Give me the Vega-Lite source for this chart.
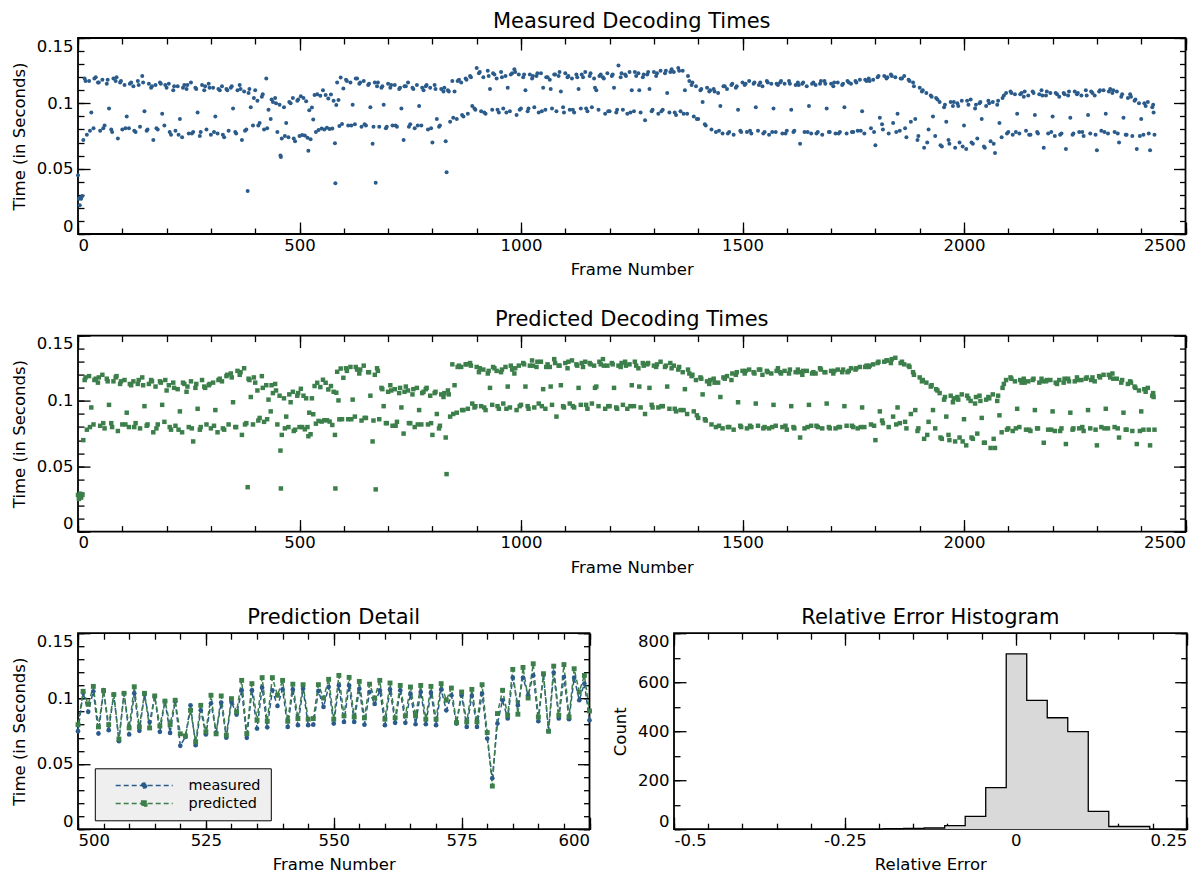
{
"$schema":"https://vega.github.io/schema/vega-lite/v6.json",
"padding":{"left":10,"top":10,"right":5,"bottom":5},
"background":"white",
"config":{
"font":"DejaVu Sans",
"view":{"stroke":"#000000","strokeWidth":1.8},
"axis":{"grid":false,"domain":false,"tickColor":"#000000","tickWidth":1.3,"labelColor":"#000000","titleColor":"#000000","labelFont":"DejaVu Sans","titleFont":"DejaVu Sans","labelFontSize":16.5,"titleFontSize":16.5,"titleFontWeight":"normal","labelOverlap":false,"labelFlush":true},
"title":{"fontSize":21,"fontWeight":"normal","color":"#000000","font":"DejaVu Sans","offset":5}
},
"datasets":{
"stub":[],
"hist":[{"edge":-0.194,"count":2},{"edge":-0.164,"count":3},{"edge":-0.134,"count":5},{"edge":-0.104,"count":15},{"edge":-0.074,"count":52},{"edge":-0.044,"count":170},{"edge":-0.014,"count":716},{"edge":0.016,"count":526},{"edge":0.046,"count":455},{"edge":0.076,"count":398},{"edge":0.106,"count":73},{"edge":0.136,"count":11},{"edge":0.166,"count":11},{"edge":0.196,"count":0}],
"detail":[{"frame":500,"measured":0.075,"predicted":0.08},{"frame":501,"measured":0.1045,"predicted":0.1055},{"frame":502,"measured":0.0898,"predicted":0.0956},{"frame":503,"measured":0.1055,"predicted":0.1093},{"frame":504,"measured":0.0732,"predicted":0.0783},{"frame":505,"measured":0.1065,"predicted":0.106},{"frame":506,"measured":0.0758,"predicted":0.08},{"frame":507,"measured":0.103,"predicted":0.103},{"frame":508,"measured":0.0674,"predicted":0.069},{"frame":509,"measured":0.104,"predicted":0.104},{"frame":510,"measured":0.0725,"predicted":0.0775},{"frame":511,"measured":0.104,"predicted":0.109},{"frame":512,"measured":0.0753,"predicted":0.0783},{"frame":513,"measured":0.103,"predicted":0.104},{"frame":514,"measured":0.082,"predicted":0.0775},{"frame":515,"measured":0.1015,"predicted":0.102},{"frame":516,"measured":0.0745,"predicted":0.079},{"frame":517,"measured":0.098,"predicted":0.098},{"frame":518,"measured":0.0737,"predicted":0.08},{"frame":519,"measured":0.098,"predicted":0.0987},{"frame":520,"measured":0.0638,"predicted":0.073},{"frame":521,"measured":0.0707,"predicted":0.0714},{"frame":522,"measured":0.0948,"predicted":0.091},{"frame":523,"measured":0.0643,"predicted":0.0669},{"frame":524,"measured":0.091,"predicted":0.0948},{"frame":525,"measured":0.0725,"predicted":0.0745},{"frame":526,"measured":0.0964,"predicted":0.1025},{"frame":527,"measured":0.074,"predicted":0.073},{"frame":528,"measured":0.0969,"predicted":0.102},{"frame":529,"measured":0.07,"predicted":0.072},{"frame":530,"measured":0.0974,"predicted":0.0999},{"frame":531,"measured":0.0877,"predicted":0.0898},{"frame":532,"measured":0.1063,"predicted":0.1139},{"frame":533,"measured":0.0699,"predicted":0.0732},{"frame":534,"measured":0.1063,"predicted":0.1114},{"frame":535,"measured":0.077,"predicted":0.0834},{"frame":536,"measured":0.1083,"predicted":0.116},{"frame":537,"measured":0.078,"predicted":0.0826},{"frame":538,"measured":0.1063,"predicted":0.116},{"frame":539,"measured":0.0943,"predicted":0.1025},{"frame":540,"measured":0.107,"predicted":0.1139},{"frame":541,"measured":0.0783,"predicted":0.0826},{"frame":542,"measured":0.107,"predicted":0.111},{"frame":543,"measured":0.0796,"predicted":0.0847},{"frame":544,"measured":0.1075,"predicted":0.1106},{"frame":545,"measured":0.0796,"predicted":0.0842},{"frame":546,"measured":0.08,"predicted":0.0847},{"frame":547,"measured":0.1058,"predicted":0.1106},{"frame":548,"measured":0.0936,"predicted":0.1004},{"frame":549,"measured":0.1088,"predicted":0.1147},{"frame":550,"measured":0.0808,"predicted":0.0842},{"frame":551,"measured":0.11,"predicted":0.1177},{"frame":552,"measured":0.0821,"predicted":0.0867},{"frame":553,"measured":0.11,"predicted":0.1162},{"frame":554,"measured":0.0821,"predicted":0.0859},{"frame":555,"measured":0.1075,"predicted":0.1131},{"frame":556,"measured":0.08,"predicted":0.0852},{"frame":557,"measured":0.105,"predicted":0.111},{"frame":558,"measured":0.0959,"predicted":0.1004},{"frame":559,"measured":0.1063,"predicted":0.1139},{"frame":560,"measured":0.0796,"predicted":0.0842},{"frame":561,"measured":0.107,"predicted":0.1119},{"frame":562,"measured":0.0814,"predicted":0.0852},{"frame":563,"measured":0.1063,"predicted":0.11},{"frame":564,"measured":0.0814,"predicted":0.0867},{"frame":565,"measured":0.1037,"predicted":0.1088},{"frame":566,"measured":0.0803,"predicted":0.0867},{"frame":567,"measured":0.105,"predicted":0.11},{"frame":568,"measured":0.0803,"predicted":0.0842},{"frame":569,"measured":0.1045,"predicted":0.1093},{"frame":570,"measured":0.0796,"predicted":0.0842},{"frame":571,"measured":0.1068,"predicted":0.1114},{"frame":572,"measured":0.091,"predicted":0.0987},{"frame":573,"measured":0.1025,"predicted":0.108},{"frame":574,"measured":0.0808,"predicted":0.0816},{"frame":575,"measured":0.1025,"predicted":0.105},{"frame":576,"measured":0.0783,"predicted":0.0821},{"frame":577,"measured":0.102,"predicted":0.107},{"frame":578,"measured":0.0783,"predicted":0.0821},{"frame":579,"measured":0.1037,"predicted":0.1106},{"frame":580,"measured":0.0694,"predicted":0.074},{"frame":581,"measured":0.0389,"predicted":0.033},{"frame":582,"measured":0.0808,"predicted":0.0885},{"frame":583,"measured":0.0987,"predicted":0.1063},{"frame":584,"measured":0.0847,"predicted":0.0872},{"frame":585,"measured":0.116,"predicted":0.1223},{"frame":586,"measured":0.0948,"predicted":0.088},{"frame":587,"measured":0.116,"predicted":0.1238},{"frame":588,"measured":0.1025,"predicted":0.1004},{"frame":589,"measured":0.1177,"predicted":0.1266},{"frame":590,"measured":0.0826,"predicted":0.0859},{"frame":591,"measured":0.1182,"predicted":0.119},{"frame":592,"measured":0.075,"predicted":0.075},{"frame":593,"measured":0.1198,"predicted":0.1248},{"frame":594,"measured":0.0847,"predicted":0.0872},{"frame":595,"measured":0.1165,"predicted":0.126},{"frame":596,"measured":0.0842,"predicted":0.086},{"frame":597,"measured":0.116,"predicted":0.1228},{"frame":598,"measured":0.0987,"predicted":0.105},{"frame":599,"measured":0.1114,"predicted":0.1177},{"frame":600,"measured":0.0834,"predicted":0.0905}],
"frames":[
{"f":0,"m":0.045,"p":0.028},{"f":2,"m":0.027,"p":0.025},{"f":4,"m":0.022,"p":0.027},{"f":5,"m":0.028,"p":0.029},{"f":7,"m":0.027,"p":0.026},{"f":10,"m":0.029,"p":0.028},{"f":12,"m":0.072,"p":0.070},
{"f":15,"m":0.119,"p":0.116},{"f":20,"m":0.076,"p":0.078},{"f":25,"m":0.117,"p":0.119},{"f":30,"m":0.093,"p":0.095},{"f":35,"m":0.081,"p":0.082},{"f":40,"m":0.120,"p":0.117},{"f":45,"m":0.116,"p":0.114},{"f":50,"m":0.079,"p":0.081},{"f":55,"m":0.118,"p":0.120},{"f":60,"m":0.083,"p":0.079},{"f":65,"m":0.115,"p":0.117},{"f":70,"m":0.096,"p":0.097},{"f":75,"m":0.080,"p":0.083},{"f":80,"m":0.119,"p":0.115},{"f":85,"m":0.117,"p":0.118},{"f":90,"m":0.073,"p":0.077},{"f":95,"m":0.116,"p":0.113},
{"f":100,"m":0.080,"p":0.082},{"f":105,"m":0.114,"p":0.116},{"f":110,"m":0.090,"p":0.091},{"f":115,"m":0.081,"p":0.080},{"f":120,"m":0.116,"p":0.112},{"f":125,"m":0.113,"p":0.115},{"f":130,"m":0.078,"p":0.083},{"f":135,"m":0.117,"p":0.113},{"f":140,"m":0.082,"p":0.079},{"f":145,"m":0.121,"p":0.118},{"f":150,"m":0.094,"p":0.096},{"f":155,"m":0.079,"p":0.081},{"f":160,"m":0.115,"p":0.113},{"f":165,"m":0.112,"p":0.116},{"f":170,"m":0.072,"p":0.076},{"f":175,"m":0.114,"p":0.111},{"f":180,"m":0.080,"p":0.082},{"f":185,"m":0.116,"p":0.115},{"f":190,"m":0.092,"p":0.097},{"f":195,"m":0.083,"p":0.084},
{"f":200,"m":0.112,"p":0.108},{"f":205,"m":0.115,"p":0.112},{"f":210,"m":0.076,"p":0.078},{"f":215,"m":0.110,"p":0.114},{"f":220,"m":0.079,"p":0.081},{"f":225,"m":0.113,"p":0.109},{"f":230,"m":0.088,"p":0.092},{"f":235,"m":0.074,"p":0.076},{"f":240,"m":0.114,"p":0.113},{"f":245,"m":0.111,"p":0.107},{"f":250,"m":0.077,"p":0.080},{"f":255,"m":0.116,"p":0.115},{"f":260,"m":0.078,"p":0.069},{"f":265,"m":0.112,"p":0.110},{"f":270,"m":0.093,"p":0.094},{"f":275,"m":0.075,"p":0.078},{"f":280,"m":0.114,"p":0.116},{"f":285,"m":0.110,"p":0.111},{"f":290,"m":0.080,"p":0.082},{"f":295,"m":0.115,"p":0.112},
{"f":300,"m":0.076,"p":0.079},{"f":305,"m":0.112,"p":0.114},{"f":310,"m":0.090,"p":0.093},{"f":315,"m":0.077,"p":0.076},{"f":320,"m":0.110,"p":0.117},{"f":325,"m":0.113,"p":0.115},{"f":330,"m":0.074,"p":0.078},{"f":335,"m":0.111,"p":0.119},{"f":340,"m":0.079,"p":0.082},{"f":345,"m":0.112,"p":0.121},{"f":350,"m":0.096,"p":0.099},{"f":355,"m":0.078,"p":0.080},{"f":360,"m":0.110,"p":0.123},{"f":365,"m":0.114,"p":0.120},{"f":370,"m":0.072,"p":0.074},{"f":375,"m":0.109,"p":0.125},
{"f":380,"m":0.080,"p":0.083},{"f":383,"m":0.033,"p":0.034},{"f":385,"m":0.108,"p":0.117},{"f":390,"m":0.097,"p":0.103},{"f":395,"m":0.083,"p":0.082},{"f":400,"m":0.110,"p":0.114},{"f":405,"m":0.102,"p":0.108},{"f":410,"m":0.085,"p":0.087},{"f":415,"m":0.105,"p":0.119},{"f":420,"m":0.080,"p":0.084},{"f":425,"m":0.119,"p":0.112},{"f":430,"m":0.095,"p":0.101},{"f":435,"m":0.088,"p":0.092},{"f":440,"m":0.101,"p":0.106},{"f":445,"m":0.104,"p":0.113},{"f":450,"m":0.078,"p":0.082},{"f":455,"m":0.099,"p":0.104},{"f":457,"m":0.060,"p":0.062},{"f":458,"m":0.059,"p":0.033},
{"f":460,"m":0.073,"p":0.074},{"f":465,"m":0.097,"p":0.102},{"f":470,"m":0.085,"p":0.088},{"f":475,"m":0.074,"p":0.080},{"f":480,"m":0.100,"p":0.099},{"f":485,"m":0.104,"p":0.107},{"f":490,"m":0.071,"p":0.078},{"f":495,"m":0.102,"p":0.104},
{"f":500,"m":0.075,"p":0.080},{"f":503,"m":0.1055,"p":0.1093},{"f":506,"m":0.0758,"p":0.080},{"f":509,"m":0.104,"p":0.104},{"f":512,"m":0.0753,"p":0.0783},{"f":515,"m":0.1015,"p":0.102},{"f":518,"m":0.0737,"p":0.080},{"f":520,"m":0.0638,"p":0.073},{"f":522,"m":0.0948,"p":0.091},{"f":525,"m":0.0725,"p":0.0745},{"f":528,"m":0.0969,"p":0.102},{"f":531,"m":0.0877,"p":0.0898},{"f":534,"m":0.1063,"p":0.1114},{"f":537,"m":0.078,"p":0.0826},{"f":540,"m":0.107,"p":0.1139},{"f":543,"m":0.0796,"p":0.0847},{"f":547,"m":0.1058,"p":0.1106},{"f":550,"m":0.0808,"p":0.0842},{"f":553,"m":0.110,"p":0.1162},{"f":556,"m":0.080,"p":0.0852},{"f":559,"m":0.1063,"p":0.1139},{"f":562,"m":0.0814,"p":0.0852},{"f":565,"m":0.1037,"p":0.1088},{"f":568,"m":0.0803,"p":0.0842},{"f":571,"m":0.1068,"p":0.1114},{"f":574,"m":0.0808,"p":0.0816},{"f":577,"m":0.102,"p":0.107},{"f":580,"m":0.0694,"p":0.074},{"f":581,"m":0.0389,"p":0.033},{"f":583,"m":0.0987,"p":0.1063},{"f":585,"m":0.116,"p":0.1223},{"f":588,"m":0.1025,"p":0.1004},{"f":590,"m":0.0826,"p":0.0859},{"f":593,"m":0.1198,"p":0.1248},{"f":596,"m":0.0842,"p":0.086},{"f":599,"m":0.1114,"p":0.1177},
{"f":605,"m":0.118,"p":0.125},{"f":610,"m":0.083,"p":0.086},{"f":615,"m":0.116,"p":0.126},{"f":620,"m":0.099,"p":0.101},{"f":625,"m":0.084,"p":0.088},{"f":630,"m":0.119,"p":0.124},{"f":635,"m":0.115,"p":0.121},{"f":640,"m":0.082,"p":0.085},{"f":645,"m":0.117,"p":0.127},{"f":650,"m":0.083,"p":0.087},{"f":655,"m":0.114,"p":0.122},{"f":660,"m":0.097,"p":0.104},{"f":665,"m":0.069,"p":0.069},{"f":670,"m":0.116,"p":0.120},{"f":672,"m":0.0393,"p":0.0323},{"f":675,"m":0.113,"p":0.125},{"f":680,"m":0.082,"p":0.086},
{"f":685,"m":0.112,"p":0.110},{"f":690,"m":0.099,"p":0.096},{"f":695,"m":0.081,"p":0.083},{"f":700,"m":0.115,"p":0.107},{"f":705,"m":0.112,"p":0.112},{"f":710,"m":0.083,"p":0.081},{"f":715,"m":0.114,"p":0.109},{"f":720,"m":0.082,"p":0.084},{"f":725,"m":0.111,"p":0.106},{"f":730,"m":0.096,"p":0.095},{"f":735,"m":0.072,"p":0.075},{"f":740,"m":0.113,"p":0.111},{"f":745,"m":0.116,"p":0.108},{"f":750,"m":0.084,"p":0.083},{"f":755,"m":0.112,"p":0.105},{"f":760,"m":0.081,"p":0.080},{"f":765,"m":0.114,"p":0.110},{"f":770,"m":0.098,"p":0.093},{"f":775,"m":0.083,"p":0.082},{"f":780,"m":0.110,"p":0.107},{"f":785,"m":0.113,"p":0.109},{"f":790,"m":0.080,"p":0.082},{"f":795,"m":0.112,"p":0.104},{"f":800,"m":0.070,"p":0.074},{"f":805,"m":0.114,"p":0.106},{"f":810,"m":0.088,"p":0.090},{"f":815,"m":0.082,"p":0.079},{"f":820,"m":0.111,"p":0.105},{"f":825,"m":0.109,"p":0.103},{"f":830,"m":0.071,"p":0.072},{"f":832,"m":0.0472,"p":0.044},{"f":835,"m":0.110,"p":0.108},
{"f":840,"m":0.086,"p":0.088},{"f":845,"m":0.117,"p":0.128},{"f":850,"m":0.109,"p":0.112},{"f":855,"m":0.088,"p":0.091},{"f":860,"m":0.118,"p":0.127},{"f":865,"m":0.116,"p":0.126},{"f":870,"m":0.090,"p":0.093},{"f":875,"m":0.119,"p":0.128},{"f":880,"m":0.092,"p":0.094},{"f":885,"m":0.121,"p":0.129},{"f":890,"m":0.098,"p":0.098},{"f":895,"m":0.096,"p":0.095},
{"f":900,"m":0.127,"p":0.126},{"f":905,"m":0.123,"p":0.122},{"f":910,"m":0.094,"p":0.096},{"f":915,"m":0.120,"p":0.124},{"f":920,"m":0.092,"p":0.093},{"f":925,"m":0.125,"p":0.121},{"f":930,"m":0.111,"p":0.110},{"f":935,"m":0.095,"p":0.097},{"f":940,"m":0.122,"p":0.125},{"f":945,"m":0.119,"p":0.123},{"f":950,"m":0.093,"p":0.094},{"f":955,"m":0.124,"p":0.122},{"f":960,"m":0.096,"p":0.098},{"f":965,"m":0.121,"p":0.126},{"f":970,"m":0.112,"p":0.111},{"f":975,"m":0.094,"p":0.095},{"f":980,"m":0.123,"p":0.124},{"f":985,"m":0.126,"p":0.121},{"f":990,"m":0.091,"p":0.093},{"f":995,"m":0.122,"p":0.127},
{"f":1000,"m":0.096,"p":0.097},{"f":1005,"m":0.120,"p":0.129},{"f":1010,"m":0.110,"p":0.111},{"f":1015,"m":0.094,"p":0.096},{"f":1020,"m":0.122,"p":0.127},{"f":1025,"m":0.119,"p":0.131},{"f":1030,"m":0.097,"p":0.095},{"f":1035,"m":0.121,"p":0.126},{"f":1040,"m":0.093,"p":0.098},{"f":1045,"m":0.123,"p":0.130},{"f":1050,"m":0.112,"p":0.109},{"f":1055,"m":0.095,"p":0.094},{"f":1060,"m":0.120,"p":0.128},{"f":1065,"m":0.118,"p":0.126},{"f":1070,"m":0.096,"p":0.097},{"f":1075,"m":0.122,"p":0.132},{"f":1080,"m":0.094,"p":0.088},{"f":1085,"m":0.121,"p":0.127},{"f":1090,"m":0.109,"p":0.112},{"f":1095,"m":0.097,"p":0.096},{"f":1100,"m":0.123,"p":0.129},{"f":1105,"m":0.120,"p":0.125},{"f":1110,"m":0.095,"p":0.098},{"f":1115,"m":0.119,"p":0.131},{"f":1120,"m":0.093,"p":0.095},{"f":1125,"m":0.122,"p":0.128},{"f":1130,"m":0.111,"p":0.110},{"f":1135,"m":0.096,"p":0.097},{"f":1140,"m":0.120,"p":0.126},{"f":1145,"m":0.124,"p":0.130},{"f":1150,"m":0.094,"p":0.094},{"f":1155,"m":0.121,"p":0.129},{"f":1160,"m":0.097,"p":0.098},{"f":1165,"m":0.119,"p":0.127},{"f":1170,"m":0.110,"p":0.111},{"f":1175,"m":0.095,"p":0.096},{"f":1180,"m":0.122,"p":0.128},{"f":1185,"m":0.120,"p":0.132},{"f":1190,"m":0.092,"p":0.094},{"f":1195,"m":0.123,"p":0.127},
{"f":1200,"m":0.094,"p":0.096},{"f":1205,"m":0.121,"p":0.129},{"f":1210,"m":0.112,"p":0.110},{"f":1215,"m":0.093,"p":0.095},{"f":1220,"m":0.129,"p":0.127},{"f":1225,"m":0.120,"p":0.126},{"f":1230,"m":0.095,"p":0.097},{"f":1235,"m":0.122,"p":0.130},{"f":1240,"m":0.092,"p":0.094},{"f":1245,"m":0.124,"p":0.128},{"f":1250,"m":0.110,"p":0.112},{"f":1255,"m":0.094,"p":0.096},{"f":1260,"m":0.121,"p":0.127},{"f":1265,"m":0.123,"p":0.125},{"f":1270,"m":0.093,"p":0.095},{"f":1275,"m":0.120,"p":0.129},{"f":1280,"m":0.087,"p":0.090},{"f":1285,"m":0.122,"p":0.128},{"f":1290,"m":0.111,"p":0.110},{"f":1295,"m":0.094,"p":0.097},{"f":1300,"m":0.124,"p":0.127},{"f":1305,"m":0.121,"p":0.126},{"f":1310,"m":0.092,"p":0.095},{"f":1315,"m":0.125,"p":0.130},{"f":1320,"m":0.095,"p":0.096},{"f":1325,"m":0.123,"p":0.126},{"f":1330,"m":0.108,"p":0.111},{"f":1335,"m":0.093,"p":0.094},{"f":1340,"m":0.126,"p":0.125},{"f":1345,"m":0.124,"p":0.127},{"f":1350,"m":0.091,"p":0.092},{"f":1355,"m":0.127,"p":0.124},{"f":1360,"m":0.094,"p":0.093},{"f":1365,"m":0.125,"p":0.122},{"f":1370,"m":0.110,"p":0.109},{"f":1375,"m":0.092,"p":0.090},
{"f":1380,"m":0.117,"p":0.121},{"f":1385,"m":0.114,"p":0.119},{"f":1390,"m":0.090,"p":0.092},{"f":1395,"m":0.113,"p":0.116},{"f":1400,"m":0.088,"p":0.087},{"f":1405,"m":0.110,"p":0.118},{"f":1410,"m":0.101,"p":0.105},{"f":1415,"m":0.084,"p":0.086},{"f":1420,"m":0.112,"p":0.115},{"f":1425,"m":0.109,"p":0.113},{"f":1430,"m":0.080,"p":0.082},{"f":1435,"m":0.111,"p":0.117},{"f":1440,"m":0.078,"p":0.080},{"f":1445,"m":0.108,"p":0.114},
{"f":1450,"m":0.098,"p":0.103},{"f":1455,"m":0.077,"p":0.079},{"f":1460,"m":0.113,"p":0.117},{"f":1465,"m":0.111,"p":0.119},{"f":1470,"m":0.078,"p":0.080},{"f":1475,"m":0.114,"p":0.116},{"f":1480,"m":0.076,"p":0.078},{"f":1485,"m":0.112,"p":0.120},{"f":1490,"m":0.095,"p":0.099},{"f":1495,"m":0.079,"p":0.081},{"f":1500,"m":0.116,"p":0.123},{"f":1505,"m":0.114,"p":0.121},{"f":1510,"m":0.078,"p":0.079},{"f":1515,"m":0.117,"p":0.124},{"f":1520,"m":0.077,"p":0.080},{"f":1525,"m":0.115,"p":0.122},{"f":1530,"m":0.097,"p":0.098},{"f":1535,"m":0.079,"p":0.081},{"f":1540,"m":0.116,"p":0.124},{"f":1545,"m":0.113,"p":0.120},{"f":1550,"m":0.078,"p":0.080},{"f":1555,"m":0.117,"p":0.123},{"f":1560,"m":0.076,"p":0.079},{"f":1565,"m":0.115,"p":0.121},{"f":1570,"m":0.096,"p":0.097},{"f":1575,"m":0.078,"p":0.081},{"f":1580,"m":0.114,"p":0.125},{"f":1585,"m":0.116,"p":0.122},{"f":1590,"m":0.077,"p":0.080},{"f":1595,"m":0.115,"p":0.123},{"f":1600,"m":0.079,"p":0.078},{"f":1605,"m":0.117,"p":0.121},{"f":1610,"m":0.095,"p":0.096},{"f":1615,"m":0.078,"p":0.080},{"f":1620,"m":0.114,"p":0.122},{"f":1625,"m":0.116,"p":0.124},{"f":1630,"m":0.069,"p":0.072},{"f":1635,"m":0.115,"p":0.120},{"f":1640,"m":0.078,"p":0.079},{"f":1645,"m":0.113,"p":0.123},{"f":1650,"m":0.098,"p":0.097},{"f":1655,"m":0.077,"p":0.081},{"f":1660,"m":0.116,"p":0.122},{"f":1665,"m":0.114,"p":0.121},{"f":1670,"m":0.078,"p":0.080},{"f":1675,"m":0.115,"p":0.125},{"f":1680,"m":0.076,"p":0.079},{"f":1685,"m":0.117,"p":0.122},{"f":1690,"m":0.096,"p":0.098},{"f":1695,"m":0.078,"p":0.080},{"f":1700,"m":0.115,"p":0.123},{"f":1705,"m":0.113,"p":0.121},{"f":1710,"m":0.077,"p":0.079},{"f":1715,"m":0.116,"p":0.124},{"f":1720,"m":0.078,"p":0.080},{"f":1725,"m":0.114,"p":0.122},{"f":1730,"m":0.097,"p":0.096},{"f":1735,"m":0.077,"p":0.081},{"f":1740,"m":0.116,"p":0.123},{"f":1745,"m":0.115,"p":0.125},{"f":1750,"m":0.078,"p":0.080},{"f":1755,"m":0.117,"p":0.124},{"f":1760,"m":0.079,"p":0.079},{"f":1765,"m":0.118,"p":0.126},{"f":1770,"m":0.094,"p":0.095},{"f":1775,"m":0.077,"p":0.080},{"f":1780,"m":0.117,"p":0.127},{"f":1785,"m":0.119,"p":0.126},{"f":1790,"m":0.081,"p":0.082},{"f":1795,"m":0.118,"p":0.128},
{"f":1800,"m":0.068,"p":0.070},{"f":1805,"m":0.120,"p":0.129},{"f":1810,"m":0.089,"p":0.092},{"f":1815,"m":0.084,"p":0.085},{"f":1820,"m":0.121,"p":0.130},{"f":1825,"m":0.119,"p":0.131},{"f":1830,"m":0.077,"p":0.080},{"f":1835,"m":0.122,"p":0.129},{"f":1840,"m":0.085,"p":0.088},{"f":1845,"m":0.120,"p":0.133},{"f":1850,"m":0.092,"p":0.095},{"f":1855,"m":0.079,"p":0.083},{"f":1860,"m":0.119,"p":0.130},{"f":1865,"m":0.121,"p":0.128},{"f":1870,"m":0.074,"p":0.079},{"f":1875,"m":0.118,"p":0.127},
{"f":1880,"m":0.086,"p":0.090},{"f":1885,"m":0.116,"p":0.122},{"f":1890,"m":0.088,"p":0.093},{"f":1895,"m":0.072,"p":0.077},{"f":1900,"m":0.112,"p":0.118},{"f":1905,"m":0.109,"p":0.115},{"f":1910,"m":0.066,"p":0.071},{"f":1915,"m":0.108,"p":0.114},{"f":1920,"m":0.080,"p":0.084},{"f":1925,"m":0.106,"p":0.111},{"f":1930,"m":0.090,"p":0.093},{"f":1935,"m":0.075,"p":0.079},{"f":1940,"m":0.103,"p":0.108},{"f":1945,"m":0.101,"p":0.106},
{"f":1950,"m":0.067,"p":0.071},{"f":1955,"m":0.097,"p":0.101},{"f":1960,"m":0.086,"p":0.088},{"f":1965,"m":0.072,"p":0.074},{"f":1970,"m":0.101,"p":0.104},{"f":1975,"m":0.098,"p":0.099},{"f":1980,"m":0.066,"p":0.069},{"f":1985,"m":0.100,"p":0.103},{"f":1990,"m":0.070,"p":0.072},{"f":1995,"m":0.102,"p":0.105},{"f":2000,"m":0.083,"p":0.086},{"f":2005,"m":0.065,"p":0.066},{"f":2010,"m":0.099,"p":0.102},{"f":2015,"m":0.103,"p":0.100},{"f":2020,"m":0.069,"p":0.071},{"f":2025,"m":0.096,"p":0.098},{"f":2030,"m":0.073,"p":0.075},{"f":2035,"m":0.100,"p":0.104},{"f":2040,"m":0.088,"p":0.087},{"f":2045,"m":0.067,"p":0.068},{"f":2050,"m":0.098,"p":0.101},{"f":2055,"m":0.102,"p":0.103},{"f":2060,"m":0.071,"p":0.064},{"f":2065,"m":0.101,"p":0.105},{"f":2070,"m":0.062,"p":0.064},{"f":2075,"m":0.099,"p":0.100},{"f":2080,"m":0.085,"p":0.089},{"f":2085,"m":0.074,"p":0.076},
{"f":2090,"m":0.106,"p":0.113},{"f":2095,"m":0.108,"p":0.116},{"f":2100,"m":0.078,"p":0.079},{"f":2105,"m":0.109,"p":0.118},{"f":2110,"m":0.076,"p":0.077},{"f":2115,"m":0.107,"p":0.115},{"f":2120,"m":0.092,"p":0.094},{"f":2125,"m":0.077,"p":0.080},{"f":2130,"m":0.108,"p":0.114},{"f":2135,"m":0.105,"p":0.117},{"f":2140,"m":0.079,"p":0.078},{"f":2145,"m":0.106,"p":0.115},{"f":2150,"m":0.076,"p":0.077},{"f":2155,"m":0.109,"p":0.116},{"f":2160,"m":0.091,"p":0.093},{"f":2165,"m":0.078,"p":0.079},{"f":2170,"m":0.107,"p":0.114},{"f":2175,"m":0.110,"p":0.117},{"f":2180,"m":0.066,"p":0.068},{"f":2185,"m":0.106,"p":0.115},{"f":2190,"m":0.077,"p":0.078},{"f":2195,"m":0.108,"p":0.116},{"f":2200,"m":0.090,"p":0.092},{"f":2205,"m":0.075,"p":0.077},{"f":2210,"m":0.107,"p":0.113},{"f":2215,"m":0.105,"p":0.116},{"f":2220,"m":0.077,"p":0.079},{"f":2225,"m":0.108,"p":0.114},{"f":2230,"m":0.065,"p":0.067},{"f":2235,"m":0.106,"p":0.117},{"f":2240,"m":0.089,"p":0.091},{"f":2245,"m":0.076,"p":0.078},{"f":2250,"m":0.109,"p":0.115},{"f":2255,"m":0.107,"p":0.118},{"f":2260,"m":0.078,"p":0.079},{"f":2265,"m":0.106,"p":0.116},{"f":2270,"m":0.075,"p":0.077},{"f":2275,"m":0.110,"p":0.117},{"f":2280,"m":0.091,"p":0.093},{"f":2285,"m":0.077,"p":0.079},{"f":2290,"m":0.108,"p":0.118},{"f":2295,"m":0.106,"p":0.115},{"f":2300,"m":0.064,"p":0.066},{"f":2305,"m":0.109,"p":0.119},{"f":2310,"m":0.079,"p":0.080},{"f":2315,"m":0.110,"p":0.120},{"f":2320,"m":0.092,"p":0.094},{"f":2325,"m":0.077,"p":0.079},{"f":2330,"m":0.111,"p":0.118},{"f":2335,"m":0.108,"p":0.121},{"f":2340,"m":0.078,"p":0.080},{"f":2345,"m":0.109,"p":0.117},{"f":2350,"m":0.070,"p":0.072},{"f":2355,"m":0.105,"p":0.114},
{"f":2360,"m":0.089,"p":0.091},{"f":2365,"m":0.076,"p":0.078},{"f":2370,"m":0.104,"p":0.113},{"f":2375,"m":0.107,"p":0.115},{"f":2380,"m":0.075,"p":0.077},{"f":2385,"m":0.102,"p":0.111},{"f":2390,"m":0.065,"p":0.067},{"f":2395,"m":0.100,"p":0.108},{"f":2400,"m":0.088,"p":0.092},{"f":2405,"m":0.076,"p":0.078},{"f":2410,"m":0.098,"p":0.107},{"f":2415,"m":0.101,"p":0.110},{"f":2420,"m":0.064,"p":0.066},{"f":2425,"m":0.097,"p":0.104},{"f":2428,"m":0.093,"p":0.103},{"f":2430,"m":0.076,"p":0.078},
{"f":17,"m":0.117,"p":0.118},{"f":27,"m":0.079,"p":0.080},{"f":37,"m":0.119,"p":0.116},{"f":47,"m":0.116,"p":0.118},{"f":57,"m":0.081,"p":0.083},{"f":67,"m":0.118,"p":0.115},{"f":77,"m":0.078,"p":0.080},{"f":87,"m":0.120,"p":0.119},{"f":97,"m":0.117,"p":0.115},
{"f":107,"m":0.081,"p":0.082},{"f":117,"m":0.115,"p":0.113},{"f":127,"m":0.079,"p":0.080},{"f":137,"m":0.114,"p":0.116},{"f":147,"m":0.116,"p":0.112},{"f":157,"m":0.080,"p":0.082},{"f":167,"m":0.113,"p":0.115},{"f":177,"m":0.081,"p":0.079},{"f":187,"m":0.115,"p":0.114},{"f":197,"m":0.114,"p":0.116},
{"f":207,"m":0.078,"p":0.080},{"f":217,"m":0.113,"p":0.110},{"f":227,"m":0.076,"p":0.078},{"f":237,"m":0.112,"p":0.114},{"f":247,"m":0.114,"p":0.111},{"f":257,"m":0.077,"p":0.079},{"f":267,"m":0.111,"p":0.113},{"f":277,"m":0.078,"p":0.080},{"f":287,"m":0.113,"p":0.110},{"f":297,"m":0.112,"p":0.113},
{"f":307,"m":0.078,"p":0.081},{"f":317,"m":0.111,"p":0.116},{"f":327,"m":0.076,"p":0.079},{"f":337,"m":0.110,"p":0.120},{"f":347,"m":0.113,"p":0.118},{"f":357,"m":0.077,"p":0.080},{"f":367,"m":0.111,"p":0.122},{"f":377,"m":0.079,"p":0.082},{"f":387,"m":0.111,"p":0.116},{"f":397,"m":0.104,"p":0.118},
{"f":407,"m":0.083,"p":0.085},{"f":417,"m":0.107,"p":0.110},{"f":427,"m":0.081,"p":0.086},{"f":437,"m":0.103,"p":0.112},{"f":447,"m":0.100,"p":0.108},{"f":467,"m":0.075,"p":0.079},{"f":477,"m":0.101,"p":0.105},{"f":487,"m":0.073,"p":0.077},{"f":497,"m":0.103,"p":0.106},
{"f":607,"m":0.117,"p":0.123},{"f":617,"m":0.083,"p":0.086},{"f":627,"m":0.119,"p":0.126},{"f":637,"m":0.116,"p":0.124},{"f":647,"m":0.084,"p":0.087},{"f":657,"m":0.115,"p":0.122},{"f":667,"m":0.082,"p":0.085},{"f":677,"m":0.116,"p":0.123},{"f":687,"m":0.113,"p":0.109},{"f":697,"m":0.082,"p":0.083},
{"f":707,"m":0.114,"p":0.108},{"f":717,"m":0.083,"p":0.081},{"f":727,"m":0.112,"p":0.110},{"f":737,"m":0.113,"p":0.107},{"f":747,"m":0.082,"p":0.083},{"f":757,"m":0.111,"p":0.109},{"f":767,"m":0.083,"p":0.082},{"f":777,"m":0.112,"p":0.106},{"f":787,"m":0.114,"p":0.110},{"f":797,"m":0.081,"p":0.083},
{"f":807,"m":0.111,"p":0.107},{"f":817,"m":0.083,"p":0.081},{"f":827,"m":0.112,"p":0.106},{"f":837,"m":0.109,"p":0.105},{"f":847,"m":0.089,"p":0.090},{"f":857,"m":0.117,"p":0.126},{"f":867,"m":0.091,"p":0.093},{"f":877,"m":0.118,"p":0.128},{"f":887,"m":0.120,"p":0.127},{"f":897,"m":0.095,"p":0.096},
{"f":907,"m":0.124,"p":0.125},{"f":917,"m":0.093,"p":0.095},{"f":927,"m":0.121,"p":0.123},{"f":937,"m":0.123,"p":0.126},{"f":947,"m":0.095,"p":0.096},{"f":957,"m":0.120,"p":0.124},{"f":967,"m":0.093,"p":0.094},{"f":977,"m":0.122,"p":0.127},{"f":987,"m":0.124,"p":0.125},{"f":997,"m":0.095,"p":0.096},
{"f":1007,"m":0.122,"p":0.128},{"f":1017,"m":0.096,"p":0.094},{"f":1027,"m":0.121,"p":0.127},{"f":1037,"m":0.123,"p":0.130},{"f":1047,"m":0.094,"p":0.096},{"f":1057,"m":0.120,"p":0.126},{"f":1067,"m":0.111,"p":0.111},{"f":1077,"m":0.122,"p":0.129},{"f":1087,"m":0.124,"p":0.127},{"f":1097,"m":0.093,"p":0.095},
{"f":1107,"m":0.121,"p":0.130},{"f":1117,"m":0.095,"p":0.096},{"f":1127,"m":0.120,"p":0.127},{"f":1137,"m":0.122,"p":0.129},{"f":1147,"m":0.096,"p":0.097},{"f":1157,"m":0.123,"p":0.128},{"f":1167,"m":0.112,"p":0.110},{"f":1177,"m":0.121,"p":0.130},{"f":1187,"m":0.119,"p":0.127},{"f":1197,"m":0.094,"p":0.096},
{"f":1207,"m":0.122,"p":0.128},{"f":1217,"m":0.095,"p":0.094},{"f":1227,"m":0.123,"p":0.129},{"f":1237,"m":0.121,"p":0.127},{"f":1247,"m":0.093,"p":0.096},{"f":1257,"m":0.124,"p":0.130},{"f":1267,"m":0.110,"p":0.111},{"f":1277,"m":0.122,"p":0.127},{"f":1287,"m":0.124,"p":0.129},{"f":1297,"m":0.095,"p":0.095},
{"f":1307,"m":0.123,"p":0.128},{"f":1317,"m":0.094,"p":0.096},{"f":1327,"m":0.125,"p":0.127},{"f":1337,"m":0.124,"p":0.129},{"f":1347,"m":0.093,"p":0.094},{"f":1357,"m":0.125,"p":0.126},{"f":1367,"m":0.092,"p":0.093},{"f":1377,"m":0.121,"p":0.124},{"f":1387,"m":0.116,"p":0.120},{"f":1397,"m":0.088,"p":0.089},
{"f":1407,"m":0.111,"p":0.117},{"f":1417,"m":0.083,"p":0.085},{"f":1427,"m":0.110,"p":0.116},{"f":1437,"m":0.109,"p":0.114},{"f":1447,"m":0.079,"p":0.081},{"f":1457,"m":0.113,"p":0.118},{"f":1467,"m":0.077,"p":0.080},{"f":1477,"m":0.115,"p":0.121},{"f":1487,"m":0.113,"p":0.122},{"f":1497,"m":0.078,"p":0.080},
{"f":1507,"m":0.115,"p":0.123},{"f":1517,"m":0.079,"p":0.081},{"f":1527,"m":0.116,"p":0.121},{"f":1537,"m":0.114,"p":0.124},{"f":1547,"m":0.077,"p":0.079},{"f":1557,"m":0.116,"p":0.122},{"f":1567,"m":0.078,"p":0.080},{"f":1577,"m":0.115,"p":0.123},{"f":1587,"m":0.117,"p":0.121},{"f":1597,"m":0.077,"p":0.081},
{"f":1607,"m":0.115,"p":0.124},{"f":1617,"m":0.079,"p":0.079},{"f":1627,"m":0.114,"p":0.122},{"f":1637,"m":0.116,"p":0.123},{"f":1647,"m":0.078,"p":0.080},{"f":1657,"m":0.115,"p":0.121},{"f":1667,"m":0.077,"p":0.081},{"f":1677,"m":0.117,"p":0.124},{"f":1687,"m":0.115,"p":0.122},{"f":1697,"m":0.078,"p":0.079},
{"f":1707,"m":0.116,"p":0.123},{"f":1717,"m":0.077,"p":0.080},{"f":1727,"m":0.115,"p":0.124},{"f":1737,"m":0.117,"p":0.122},{"f":1747,"m":0.078,"p":0.081},{"f":1757,"m":0.116,"p":0.125},{"f":1767,"m":0.079,"p":0.080},{"f":1777,"m":0.118,"p":0.126},{"f":1787,"m":0.117,"p":0.127},{"f":1797,"m":0.078,"p":0.081},
{"f":1807,"m":0.121,"p":0.130},{"f":1817,"m":0.080,"p":0.083},{"f":1827,"m":0.120,"p":0.131},{"f":1837,"m":0.121,"p":0.132},{"f":1847,"m":0.078,"p":0.082},{"f":1857,"m":0.119,"p":0.129},{"f":1867,"m":0.081,"p":0.084},{"f":1877,"m":0.117,"p":0.126},{"f":1887,"m":0.113,"p":0.120},{"f":1897,"m":0.075,"p":0.079},
{"f":1907,"m":0.110,"p":0.116},{"f":1917,"m":0.070,"p":0.074},{"f":1927,"m":0.105,"p":0.112},{"f":1937,"m":0.104,"p":0.109},{"f":1947,"m":0.068,"p":0.072},{"f":1957,"m":0.099,"p":0.103},{"f":1967,"m":0.069,"p":0.070},{"f":1977,"m":0.101,"p":0.102},{"f":1987,"m":0.098,"p":0.101},{"f":1997,"m":0.067,"p":0.069},
{"f":2007,"m":0.102,"p":0.104},{"f":2017,"m":0.070,"p":0.072},{"f":2027,"m":0.099,"p":0.103},{"f":2037,"m":0.101,"p":0.100},{"f":2047,"m":0.066,"p":0.068},{"f":2057,"m":0.100,"p":0.102},{"f":2067,"m":0.069,"p":0.071},{"f":2077,"m":0.102,"p":0.104},{"f":2087,"m":0.104,"p":0.110},{"f":2097,"m":0.077,"p":0.078},
{"f":2107,"m":0.108,"p":0.117},{"f":2117,"m":0.078,"p":0.079},{"f":2127,"m":0.107,"p":0.116},{"f":2137,"m":0.109,"p":0.114},{"f":2147,"m":0.076,"p":0.078},{"f":2157,"m":0.108,"p":0.117},{"f":2167,"m":0.077,"p":0.079},{"f":2177,"m":0.106,"p":0.115},{"f":2187,"m":0.109,"p":0.116},{"f":2197,"m":0.078,"p":0.078},
{"f":2207,"m":0.108,"p":0.114},{"f":2217,"m":0.076,"p":0.077},{"f":2227,"m":0.107,"p":0.117},{"f":2237,"m":0.109,"p":0.115},{"f":2247,"m":0.077,"p":0.079},{"f":2257,"m":0.108,"p":0.116},{"f":2267,"m":0.078,"p":0.080},{"f":2277,"m":0.106,"p":0.118},{"f":2287,"m":0.109,"p":0.116},{"f":2297,"m":0.076,"p":0.078},
{"f":2307,"m":0.110,"p":0.118},{"f":2317,"m":0.078,"p":0.079},{"f":2327,"m":0.109,"p":0.120},{"f":2337,"m":0.110,"p":0.117},{"f":2347,"m":0.077,"p":0.079},{"f":2357,"m":0.107,"p":0.116},{"f":2367,"m":0.076,"p":0.078},{"f":2377,"m":0.105,"p":0.114},{"f":2387,"m":0.103,"p":0.110},{"f":2397,"m":0.075,"p":0.077},
{"f":2407,"m":0.100,"p":0.109},{"f":2417,"m":0.077,"p":0.078},{"f":2427,"m":0.099,"p":0.106}
]
},
"spacing":101.6,
"bounds":"flush",
"vconcat":[
{
"title":"Measured Decoding Times","width":1107.5,"height":196,
"layer":[
{"data":{"name":"frames"},"mark":{"type":"circle","size":16,"color":"#2b5b8a","opacity":1},
"encoding":{
"x":{"field":"f","type":"quantitative","scale":{"domain":[0,2500],"nice":false,"zero":false},"axis":{"orient":"bottom","values":[0,500,1000,1500,2000,2500],"format":"d","tickSize":-12,"labelPadding":15,"title":"Frame Number","titlePadding":8}},
"y":{"field":"m","type":"quantitative","scale":{"domain":[0,0.15],"nice":false},"axis":{"orient":"left","values":[0,0.05,0.1,0.15],"labelExpr":"format(datum.value, '.2~f')","tickSize":-12,"labelPadding":17,"title":"Time (in Seconds)","titlePadding":9}}}},
{"data":{"name":"stub"},"mark":{"type":"point","opacity":0},
"encoding":{
"x":{"field":"a","type":"quantitative","scale":{"domain":[0,2500],"nice":false,"zero":false},"axis":{"orient":"bottom","values":[0,100,200,300,400,500,600,700,800,900,1000,1100,1200,1300,1400,1500,1600,1700,1800,1900,2000,2100,2200,2300,2400,2500],"tickSize":-6,"labels":false,"title":null}},
"y":{"field":"b","type":"quantitative","scale":{"domain":[0,0.15],"nice":false},"axis":{"orient":"left","values":[0,0.01,0.02,0.03,0.04,0.05,0.06,0.07,0.08,0.09,0.1,0.11,0.12,0.13,0.14,0.15],"tickSize":-6,"labels":false,"title":null}}}},
{"data":{"name":"stub"},"mark":{"type":"point","opacity":0},
"encoding":{
"x":{"field":"a","type":"quantitative","scale":{"domain":[0,2500],"nice":false,"zero":false},"axis":{"orient":"top","values":[0,500,1000,1500,2000,2500],"tickSize":-12,"labels":false,"title":null}},
"y":{"field":"b","type":"quantitative","scale":{"domain":[0,0.15],"nice":false},"axis":{"orient":"right","values":[0,0.05,0.1,0.15],"tickSize":-12,"labels":false,"title":null}}}},
{"data":{"name":"stub"},"mark":{"type":"point","opacity":0},
"encoding":{
"x":{"field":"a","type":"quantitative","scale":{"domain":[0,2500],"nice":false,"zero":false},"axis":{"orient":"top","values":[0,100,200,300,400,500,600,700,800,900,1000,1100,1200,1300,1400,1500,1600,1700,1800,1900,2000,2100,2200,2300,2400,2500],"tickSize":-6,"labels":false,"title":null}},
"y":{"field":"b","type":"quantitative","scale":{"domain":[0,0.15],"nice":false},"axis":{"orient":"right","values":[0,0.01,0.02,0.03,0.04,0.05,0.06,0.07,0.08,0.09,0.1,0.11,0.12,0.13,0.14,0.15],"tickSize":-6,"labels":false,"title":null}}}}
],
"resolve":{"axis":{"x":"independent","y":"independent"}}
},
{
"title":"Predicted Decoding Times","width":1107.5,"height":196,
"layer":[
{"data":{"name":"frames"},"mark":{"type":"square","size":20,"color":"#3c7f4a","opacity":1},
"encoding":{
"x":{"field":"f","type":"quantitative","scale":{"domain":[0,2500],"nice":false,"zero":false},"axis":{"orient":"bottom","values":[0,500,1000,1500,2000,2500],"format":"d","tickSize":-12,"labelPadding":15,"title":"Frame Number","titlePadding":8}},
"y":{"field":"p","type":"quantitative","scale":{"domain":[0,0.15],"nice":false},"axis":{"orient":"left","values":[0,0.05,0.1,0.15],"labelExpr":"format(datum.value, '.2~f')","tickSize":-12,"labelPadding":17,"title":"Time (in Seconds)","titlePadding":9}}}},
{"data":{"name":"stub"},"mark":{"type":"point","opacity":0},
"encoding":{
"x":{"field":"a","type":"quantitative","scale":{"domain":[0,2500],"nice":false,"zero":false},"axis":{"orient":"bottom","values":[0,100,200,300,400,500,600,700,800,900,1000,1100,1200,1300,1400,1500,1600,1700,1800,1900,2000,2100,2200,2300,2400,2500],"tickSize":-6,"labels":false,"title":null}},
"y":{"field":"b","type":"quantitative","scale":{"domain":[0,0.15],"nice":false},"axis":{"orient":"left","values":[0,0.01,0.02,0.03,0.04,0.05,0.06,0.07,0.08,0.09,0.1,0.11,0.12,0.13,0.14,0.15],"tickSize":-6,"labels":false,"title":null}}}},
{"data":{"name":"stub"},"mark":{"type":"point","opacity":0},
"encoding":{
"x":{"field":"a","type":"quantitative","scale":{"domain":[0,2500],"nice":false,"zero":false},"axis":{"orient":"top","values":[0,500,1000,1500,2000,2500],"tickSize":-12,"labels":false,"title":null}},
"y":{"field":"b","type":"quantitative","scale":{"domain":[0,0.15],"nice":false},"axis":{"orient":"right","values":[0,0.05,0.1,0.15],"tickSize":-12,"labels":false,"title":null}}}},
{"data":{"name":"stub"},"mark":{"type":"point","opacity":0},
"encoding":{
"x":{"field":"a","type":"quantitative","scale":{"domain":[0,2500],"nice":false,"zero":false},"axis":{"orient":"top","values":[0,100,200,300,400,500,600,700,800,900,1000,1100,1200,1300,1400,1500,1600,1700,1800,1900,2000,2100,2200,2300,2400,2500],"tickSize":-6,"labels":false,"title":null}},
"y":{"field":"b","type":"quantitative","scale":{"domain":[0,0.15],"nice":false},"axis":{"orient":"right","values":[0,0.01,0.02,0.03,0.04,0.05,0.06,0.07,0.08,0.09,0.1,0.11,0.12,0.13,0.14,0.15],"tickSize":-6,"labels":false,"title":null}}}}
],
"resolve":{"axis":{"x":"independent","y":"independent"}}
},
{
"hconcat":[
{
"title":"Prediction Detail","width":511.5,"height":196,
"layer":[
{"data":{"name":"detail"},"transform":[{"fold":["measured","predicted"],"as":["series","time"]}],
"layer":[
{"mark":{"type":"line","strokeDash":[5,3],"strokeWidth":1.5},
"encoding":{
"x":{"field":"frame","type":"quantitative","scale":{"domain":[500,600],"nice":false,"zero":false},"axis":{"orient":"bottom","values":[500,525,550,575,600],"format":"d","tickSize":-12,"labelPadding":15,"title":"Frame Number","titlePadding":8}},
"y":{"field":"time","type":"quantitative","scale":{"domain":[0,0.15],"nice":false},"axis":{"orient":"left","values":[0,0.05,0.1,0.15],"labelExpr":"format(datum.value, '.2~f')","tickSize":-12,"labelPadding":17,"title":"Time (in Seconds)","titlePadding":9}},
"color":{"field":"series","type":"nominal","scale":{"domain":["measured","predicted"],"range":["#2b5b8a","#3c7f4a"]},
"legend":{"orient":"none","legendX":16.8,"legendY":730.3,"title":null,"fillColor":"#efefef","strokeColor":"#000000","padding":10,"labelFontSize":14.4,"labelFont":"DejaVu Sans","labelColor":"#000000","symbolSize":36,"symbolStrokeWidth":1.5,"symbolOffset":6.7,"labelOffset":62.7,"symbolDash":[5,3],"rowPadding":3}}}},
{"transform":[{"filter":"datum.frame < 0"}],"mark":{"type":"point","filled":true,"opacity":1},
"encoding":{
"x":{"field":"frame","type":"quantitative"},
"y":{"field":"time","type":"quantitative"},
"shape":{"field":"series","type":"nominal","scale":{"domain":["measured","predicted"],"range":["M-1,0H18M9.35,0A0.85,0.85,0,1,1,7.65,0A0.85,0.85,0,1,1,9.35,0Z","M-1,0H18M7.65,-0.85H9.35V0.85H7.65Z"]}},
"fill":{"field":"series","type":"nominal","scale":{"domain":["measured","predicted"],"range":["#2b5b8a","#3c7f4a"]}}}},
{"transform":[{"filter":"datum.series === 'measured'"}],"mark":{"type":"point","shape":"circle","filled":true,"opacity":1,"size":22,"color":"#2b5b8a"},
"encoding":{"x":{"field":"frame","type":"quantitative"},"y":{"field":"time","type":"quantitative"}}},
{"transform":[{"filter":"datum.series === 'predicted'"}],"mark":{"type":"point","shape":"square","filled":true,"opacity":1,"size":24,"color":"#3c7f4a"},
"encoding":{"x":{"field":"frame","type":"quantitative"},"y":{"field":"time","type":"quantitative"}}}
]},
{"data":{"name":"stub"},"mark":{"type":"point","opacity":0},
"encoding":{
"x":{"field":"a","type":"quantitative","scale":{"domain":[500,600],"nice":false,"zero":false},"axis":{"orient":"bottom","values":[500,505,510,515,520,525,530,535,540,545,550,555,560,565,570,575,580,585,590,595,600],"tickSize":-6,"labels":false,"title":null}},
"y":{"field":"b","type":"quantitative","scale":{"domain":[0,0.15],"nice":false},"axis":{"orient":"left","values":[0,0.01,0.02,0.03,0.04,0.05,0.06,0.07,0.08,0.09,0.1,0.11,0.12,0.13,0.14,0.15],"tickSize":-6,"labels":false,"title":null}}}},
{"data":{"name":"stub"},"mark":{"type":"point","opacity":0},
"encoding":{
"x":{"field":"a","type":"quantitative","scale":{"domain":[500,600],"nice":false,"zero":false},"axis":{"orient":"top","values":[500,525,550,575,600],"tickSize":-12,"labels":false,"title":null}},
"y":{"field":"b","type":"quantitative","scale":{"domain":[0,0.15],"nice":false},"axis":{"orient":"right","values":[0,0.05,0.1,0.15],"tickSize":-12,"labels":false,"title":null}}}},
{"data":{"name":"stub"},"mark":{"type":"point","opacity":0},
"encoding":{
"x":{"field":"a","type":"quantitative","scale":{"domain":[500,600],"nice":false,"zero":false},"axis":{"orient":"top","values":[500,505,510,515,520,525,530,535,540,545,550,555,560,565,570,575,580,585,590,595,600],"tickSize":-6,"labels":false,"title":null}},
"y":{"field":"b","type":"quantitative","scale":{"domain":[0,0.15],"nice":false},"axis":{"orient":"right","values":[0,0.01,0.02,0.03,0.04,0.05,0.06,0.07,0.08,0.09,0.1,0.11,0.12,0.13,0.14,0.15],"tickSize":-6,"labels":false,"title":null}}}}
],
"resolve":{"axis":{"x":"independent","y":"independent"}}
},
{
"title":"Relative Error Histogram","width":512.7,"height":196,
"layer":[
{"data":{"name":"hist"},"mark":{"type":"area","interpolate":"step-after","color":"#d9d9d9","opacity":1},
"encoding":{
"x":{"field":"edge","type":"quantitative","scale":{"domain":[-0.5,0.25],"nice":false,"zero":false},"axis":{"orient":"bottom","values":[-0.5,-0.25,0,0.25],"labelExpr":"datum.value < 0 ? '-' + format(-datum.value, '~g') : format(datum.value, '~g')","tickSize":-12,"labelPadding":15,"title":"Relative Error","titlePadding":8}},
"y":{"field":"count","type":"quantitative","scale":{"domain":[0,800],"nice":false},"axis":{"orient":"left","values":[0,200,400,600,800],"format":"d","tickSize":-12,"labelPadding":17,"title":"Count","titlePadding":9}}}},
{"data":{"name":"hist"},"mark":{"type":"line","interpolate":"step-after","color":"#000000","strokeWidth":1.3},
"encoding":{
"x":{"field":"edge","type":"quantitative","scale":{"domain":[-0.5,0.25],"nice":false,"zero":false},"axis":null},
"y":{"field":"count","type":"quantitative","scale":{"domain":[0,800],"nice":false},"axis":null}}},
{"data":{"name":"stub"},"mark":{"type":"point","opacity":0},
"encoding":{
"x":{"field":"a","type":"quantitative","scale":{"domain":[-0.5,0.25],"nice":false,"zero":false},"axis":{"orient":"bottom","values":[-0.5,-0.45,-0.4,-0.35,-0.3,-0.25,-0.2,-0.15,-0.1,-0.05,0,0.05,0.1,0.15,0.2,0.25],"tickSize":-6,"labels":false,"title":null}},
"y":{"field":"b","type":"quantitative","scale":{"domain":[0,800],"nice":false},"axis":{"orient":"left","values":[0,100,200,300,400,500,600,700,800],"tickSize":-6,"labels":false,"title":null}}}},
{"data":{"name":"stub"},"mark":{"type":"point","opacity":0},
"encoding":{
"x":{"field":"a","type":"quantitative","scale":{"domain":[-0.5,0.25],"nice":false,"zero":false},"axis":{"orient":"top","values":[-0.5,-0.25,0,0.25],"tickSize":-12,"labels":false,"title":null}},
"y":{"field":"b","type":"quantitative","scale":{"domain":[0,800],"nice":false},"axis":{"orient":"right","values":[0,200,400,600,800],"tickSize":-12,"labels":false,"title":null}}}},
{"data":{"name":"stub"},"mark":{"type":"point","opacity":0},
"encoding":{
"x":{"field":"a","type":"quantitative","scale":{"domain":[-0.5,0.25],"nice":false,"zero":false},"axis":{"orient":"top","values":[-0.5,-0.45,-0.4,-0.35,-0.3,-0.25,-0.2,-0.15,-0.1,-0.05,0,0.05,0.1,0.15,0.2,0.25],"tickSize":-6,"labels":false,"title":null}},
"y":{"field":"b","type":"quantitative","scale":{"domain":[0,800],"nice":false},"axis":{"orient":"right","values":[0,100,200,300,400,500,600,700,800],"tickSize":-6,"labels":false,"title":null}}}}
],
"resolve":{"axis":{"x":"independent","y":"independent"}}
}
],
"spacing":84,
"bounds":"flush"
}
]
}
